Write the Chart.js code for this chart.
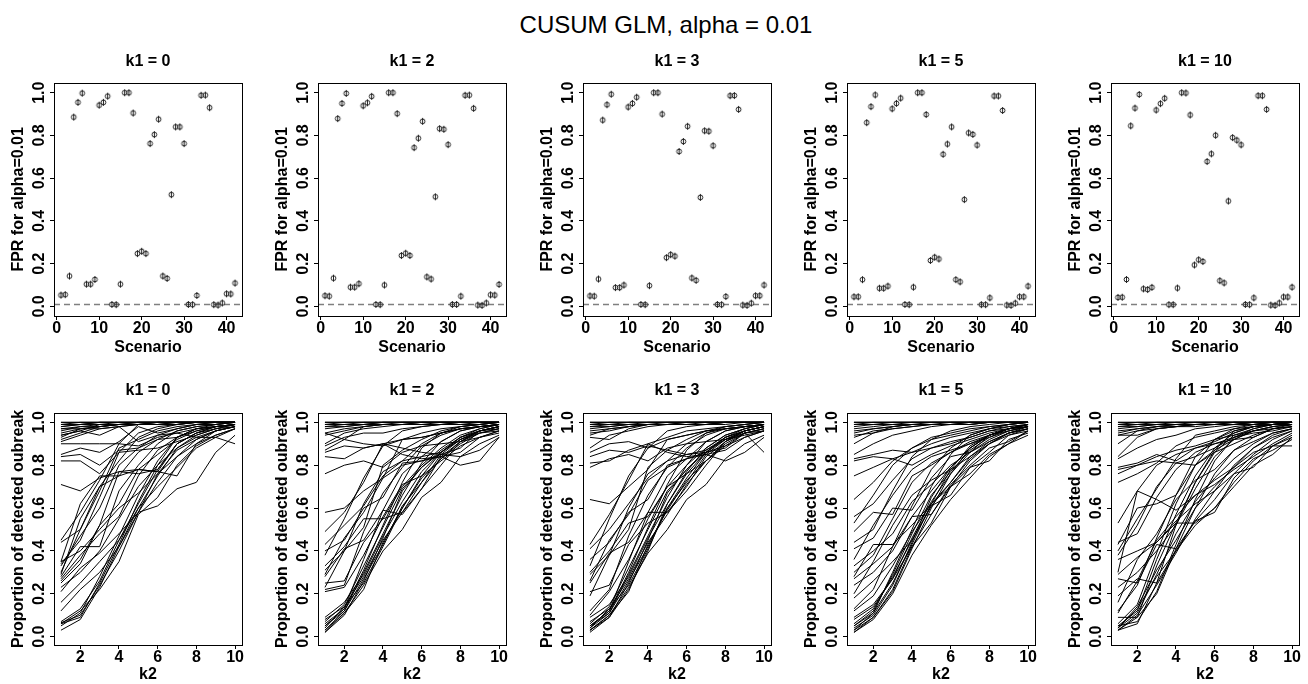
<!DOCTYPE html>
<html><head><meta charset="utf-8">
<script src="https://cdn.jsdelivr.net/npm/chart.js@4.4.1/dist/chart.umd.min.js"></script>
<style>
body{margin:0;width:1308px;height:684px;overflow:hidden;background:#fff;position:relative;font-family:'Liberation Sans',Arial,sans-serif}
canvas{position:absolute}
#main{position:absolute;left:0;width:1332px;top:13px;text-align:center;font-size:24px;line-height:24px;color:#000}
</style></head><body>
<div id="main">CUSUM GLM, alpha = 0.01</div>
<script>
// ---------- data ----------
const ALPHA = 0.01;
const K1_VALUES = [0, 2, 3, 5, 10];
const SCENARIOS = [1,2,3,4,5,6,7,8,9,10,11,12,13,14,15,16,17,18,19,20,21,22,23,24,25,26,27,28,29,30,31,32,33,34,35,36,37,38,39,40,41,42];
const SCENARIO_TICKS = [0, 10, 20, 30, 40];
const K2_VALUES = [1,2,3,4,5,6,7,8,9,10];
const K2_TICKS = [2, 4, 6, 8, 10];
const PROP_TICKS = [0, 0.2, 0.4, 0.6, 0.8, 1.0];

// FPR per scenario, one array per k1
const FPR_K1_0  = [0.053,0.055,0.142,0.886,0.955,0.998,0.104,0.104,0.126,0.942,0.955,0.984,0.009,0.008,0.104,1.000,1.000,0.905,0.247,0.258,0.247,0.762,0.804,0.876,0.142,0.131,0.523,0.840,0.840,0.762,0.009,0.008,0.051,0.988,0.989,0.930,0.008,0.006,0.016,0.059,0.058,0.109];
const FPR_K1_2  = [0.050,0.048,0.132,0.879,0.950,0.997,0.090,0.090,0.106,0.939,0.953,0.983,0.009,0.008,0.100,1.000,1.000,0.902,0.238,0.249,0.238,0.743,0.787,0.866,0.138,0.128,0.513,0.832,0.829,0.757,0.009,0.009,0.048,0.988,0.989,0.927,0.006,0.005,0.016,0.054,0.053,0.103];
const FPR_K1_3  = [0.049,0.048,0.128,0.872,0.944,0.993,0.088,0.088,0.100,0.933,0.950,0.979,0.009,0.008,0.097,1.000,1.000,0.900,0.228,0.242,0.235,0.725,0.772,0.843,0.133,0.122,0.510,0.822,0.820,0.752,0.009,0.008,0.046,0.986,0.987,0.922,0.006,0.005,0.015,0.050,0.050,0.100];
const FPR_K1_5  = [0.045,0.045,0.125,0.860,0.935,0.990,0.085,0.085,0.095,0.925,0.950,0.975,0.009,0.008,0.090,1.000,1.000,0.898,0.215,0.230,0.222,0.712,0.760,0.840,0.125,0.115,0.500,0.812,0.805,0.755,0.008,0.008,0.040,0.985,0.985,0.917,0.006,0.005,0.015,0.045,0.045,0.095];
const FPR_K1_10 = [0.042,0.043,0.126,0.845,0.928,0.992,0.082,0.079,0.089,0.919,0.949,0.974,0.008,0.008,0.086,1.000,0.999,0.896,0.194,0.218,0.210,0.678,0.714,0.801,0.120,0.110,0.493,0.790,0.778,0.756,0.009,0.008,0.040,0.986,0.986,0.922,0.006,0.005,0.016,0.044,0.044,0.090];

// Proportion of detected outbreak (in %) for k2 = 1..10, one line per scenario
const DET_K1_0 = [
[100,100,100,100,100,100,100,100,100,100],[100,100,100,100,100,100,100,100,100,100],
[99,100,100,100,100,100,100,100,100,100],[99,99,100,100,100,100,100,100,100,100],
[98,99,100,100,100,100,100,100,100,100],[98,99,99,100,100,100,100,100,100,100],
[97,98,99,99,100,100,100,100,100,100],[97,97,98,99,99,100,100,100,100,100],
[96,98,98,99,99,100,100,100,100,100],[95,97,98,99,99,99,100,100,100,100],
[94,96,99,99,100,100,100,100,100,100],[93,97,97,98,99,99,99,100,100,100],
[92,95,98,99,99,100,100,100,100,100],[91,94,97,98,99,99,99,100,100,100],
[90,90,90,90,89,93,95,97,98,99],[85,88,86,91,98,95,97,99,99,100],
[84,85,80,87,88,92,93,96,98,99],[82,82,76,86,87,88,91,94,97,99],
[71,68,74,77,76,78,90,95,97,98],[94,96,94,98,91,94,95,93,93,90],
[45,58,73,90,99,99,100,100,100,100],[44,50,70,82,93,97,99,100,100,100],
[35,62,75,75,78,77,90,95,98,99],[34,45,65,86,95,98,99,100,100,100],
[33,47,60,80,88,94,97,99,100,100],[30,50,68,88,92,96,98,99,100,100],
[29,55,70,75,86,92,96,98,99,100],[28,42,42,68,80,90,96,98,99,100],
[27,38,48,56,75,87,93,97,98,99],[26,36,52,77,78,77,75,90,96,98],
[25,34,52,62,78,85,92,96,98,99],[23,30,40,55,70,80,88,93,96,98],
[21,32,39,48,58,61,69,72,86,94],[16,25,35,45,60,70,79,88,93,97],
[12,22,30,42,58,76,87,92,96,98],[7,13,26,45,62,78,90,95,98,99],
[6.5,10,24,40,58,72,84,92,96,98],[6,12,22,35,57,65,80,89,94,97],
[6,9,25,43,63,80,93,97,99,100],[3,8,23,42,60,75,88,94,97,99],
[5,11,28,47,66,82,93,97,98,99],[35,40,50,60,67,76,84,90,94,97]
];
const DET_K1_2 = [
[100,100,100,100,100,100,100,100,100,100],[100,100,100,100,100,100,100,100,100,100],
[100,100,100,100,100,100,100,100,100,100],[99,100,100,100,100,100,100,100,100,100],
[99,99,100,100,100,100,100,100,100,100],[99,99,99,100,100,100,100,100,100,100],
[98,99,99,100,100,100,100,100,100,100],[98,98,99,99,100,100,100,100,100,100],
[97,98,99,99,99,100,100,100,100,100],[95,97,98,99,99,99,100,100,100,100],
[94,96,98,99,99,100,100,100,100,100],[95,92,98,99,99,99,99,100,100,100],
[90,95,97,98,99,99,99,99,100,100],[89,93,95,95,97,98,99,99,99,100],
[87,92,90,89,92,93,95,97,98,99],[86,89,88,90,88,86,85,84,87,93],
[84,83,88,90,85,83,84,80,82,93],[76,80,82,79,86,89,90,91,93,95],
[58,60,68,74,92,93,95,97,98,99],[49,58,72,90,92,95,97,98,99,100],
[43,52,61,75,82,90,95,97,98,99],[40,45,60,65,81,82,85,88,96,97],
[38,55,74,89,96,98,99,100,100,100],[33,42,55,55,70,80,88,94,97,99],
[31,40,51,80,87,92,96,98,99,100],[29,46,58,74,80,82,84,86,93,96],
[28,41,45,59,57,69,84,91,96,98],[25,26,44,55,58,69,80,91,96,98],
[23,40,62,77,82,84,86,92,95,97],[22,24,49,67,79,89,94,97,98,99],
[21,23,38,56,71,75,82,89,93,96],[9,16,29,47,63,77,86,93,96,98],
[8,14,25,42,60,75,86,92,96,98],[5,12,30,48,66,81,91,96,98,99],
[4,14,28,45,58,72,83,91,95,97],[3,11,24,40,50,65,72,84,90,94],
[2,10,26,46,68,79,86,93,96,98],[3,12,27,43,61,72,85,92,96,98],
[6,13,31,52,72,88,95,98,99,100],[7,15,33,51,69,79,87,93,97,99],
[2,11,22,44,60,74,83,90,95,96],[5,13,36,59,76,84,91,96,98,99]
];
const DET_K1_3 = [
[100,100,100,100,100,100,100,100,100,100],[100,100,100,100,100,100,100,100,100,100],
[100,100,100,100,100,100,100,100,100,100],[99,100,100,100,100,100,100,100,100,100],
[99,99,100,100,100,100,100,100,100,100],[98,99,99,100,100,100,100,100,100,100],
[98,98,99,99,100,100,100,100,100,100],[97,98,99,99,99,100,100,100,100,100],
[96,97,98,99,99,99,100,100,100,100],[95,96,98,99,99,100,100,100,100,100],
[94,97,98,99,99,99,99,100,100,100],[93,92,97,99,99,99,99,100,100,100],
[88,94,96,98,99,99,99,99,100,100],[86,90,91,88,92,94,96,97,98,99],
[84,87,86,89,87,85,86,88,95,86],[81,82,87,90,86,84,85,82,86,93],
[79,83,85,82,88,90,91,92,94,96],[64,62,70,78,92,94,96,97,98,99],
[43,57,73,90,93,96,97,98,99,100],[41,50,62,74,82,90,95,97,98,99],
[36,44,58,64,80,83,86,89,95,97],[33,55,75,88,96,98,99,100,100,100],
[30,40,53,56,70,80,88,94,97,99],[29,38,50,79,87,92,96,98,99,100],
[26,45,57,73,79,83,85,87,93,96],[25,39,44,58,58,70,84,91,96,98],
[21,24,43,53,58,68,80,91,96,98],[19,38,60,76,82,85,87,92,95,97],
[12,22,47,66,79,88,94,97,98,99],[10,21,36,55,70,76,82,89,93,96],
[9,15,28,46,62,76,86,93,96,98],[7,13,24,41,60,74,86,92,96,98],
[5,11,29,47,65,80,91,96,98,99],[4,13,27,44,57,71,82,91,95,97],
[3,10,23,39,50,64,71,83,90,94],[3,9,25,45,67,78,86,93,96,98],
[4,11,26,42,60,72,85,92,96,98],[5,12,30,51,71,87,95,98,99,100],
[6,14,32,50,68,78,87,93,97,99],[3,10,21,43,59,73,82,90,95,96],
[5,12,35,58,75,83,91,96,98,99],[2,9,22,40,62,77,88,94,97,99]
];
const DET_K1_5 = [
[100,100,100,100,100,100,100,100,100,100],[100,100,100,100,100,100,100,100,100,100],
[100,100,100,100,100,100,100,100,100,100],[99,100,100,100,100,100,100,100,100,100],
[99,99,100,100,100,100,100,100,100,100],[98,99,99,100,100,100,100,100,100,100],
[97,98,99,99,100,100,100,100,100,100],[96,97,98,99,99,100,100,100,100,100],
[95,97,98,99,99,99,100,100,100,100],[94,95,98,99,99,99,99,100,100,100],
[93,96,97,98,99,99,100,100,100,100],[90,95,97,98,99,99,99,100,100,100],
[85,90,94,96,98,99,99,100,100,100],[83,85,87,86,90,93,95,97,98,99],
[82,84,83,80,85,89,92,95,97,98],[75,79,83,86,88,90,93,96,97,99],
[64,72,82,88,93,95,97,98,99,100],[56,62,73,83,88,91,93,96,98,99],
[53,66,80,88,92,94,96,98,99,100],[49,58,57,75,80,86,91,94,97,98],
[44,50,68,84,92,96,98,99,100,100],[41,46,60,59,74,84,86,94,96,98],
[36,52,66,78,84,87,90,94,97,98],[33,40,48,63,71,80,86,91,95,97],
[30,38,55,72,81,86,90,93,96,98],[27,34,42,56,57,71,80,88,91,96],
[24,30,40,56,68,79,88,94,97,99],[20,35,52,66,73,78,84,90,94,97],
[18,26,35,45,61,66,79,82,92,95],[13,22,42,61,78,88,94,97,99,100],
[8,14,27,46,63,76,86,92,96,98],[5,11,25,43,62,78,89,94,97,99],
[3,9,22,42,57,70,82,90,95,97],[2,8,20,38,52,64,74,84,90,94],
[4,10,24,44,65,79,88,94,97,99],[6,13,28,45,61,72,84,91,95,98],
[3,11,30,50,70,85,94,97,99,100],[5,12,29,48,66,77,87,93,97,99],
[9,15,27,42,53,70,79,86,94,96],[12,19,33,49,62,72,83,90,95,97],
[2,9,21,41,60,76,88,94,97,99],[28,43,43,52,62,70,76,85,90,96]
];
const DET_K1_10 = [
[100,100,100,100,100,100,100,100,100,100],[100,100,100,100,100,100,100,100,100,100],
[99,100,100,100,100,100,100,100,100,100],[99,99,100,100,100,100,100,100,100,100],
[98,99,99,100,100,100,100,100,100,100],[98,98,99,99,100,100,100,100,100,100],
[97,98,99,99,99,100,100,100,100,100],[96,97,98,99,99,99,100,100,100,100],
[95,97,98,98,99,99,99,100,100,100],[94,94,97,98,99,99,99,99,100,100],
[94,96,97,98,98,99,99,100,100,100],[90,96,98,99,99,99,100,100,100,100],
[84,93,97,98,99,99,99,100,100,100],[83,88,92,94,97,98,99,99,100,100],
[79,81,85,82,88,91,95,98,99,99],[78,80,82,81,80,86,90,94,97,98],
[76,80,84,87,89,92,94,96,97,99],[72,76,81,89,93,95,97,98,99,99],
[53,68,80,85,88,90,93,96,98,99],[44,48,65,78,86,90,92,93,97,98],
[43,60,62,66,80,87,92,96,98,99],[40,55,69,83,94,96,98,99,99,100],
[38,52,70,81,84,88,93,95,96,98],[36,40,44,54,62,68,76,79,89,93],
[30,68,64,59,66,73,79,86,89,89],[29,37,44,53,53,60,70,80,85,93],
[27,25,43,41,54,58,74,83,87,92],[23,30,40,52,69,84,92,96,98,99],
[19,27,25,40,52,60,72,82,89,94],[16,36,48,64,73,78,87,91,95,97],
[12,24,46,66,84,92,96,98,99,100],[11,26,45,56,66,71,78,84,90,95],
[9,9,20,41,60,76,87,93,97,98],[5,7,21,43,64,82,93,97,99,100],
[4,11,29,48,63,74,83,90,95,97],[3,6,25,52,72,86,94,97,99,100],
[3,9,33,53,72,87,96,98,99,100],[4,14,31,45,60,70,79,88,93,96],
[5,12,36,57,75,88,95,98,99,100],[3,10,24,39,55,68,80,88,94,97],
[4,13,28,40,54,64,76,85,92,96],[6,15,39,62,80,92,97,99,100,100]
];

const FPR_ALL = [FPR_K1_0, FPR_K1_2, FPR_K1_3, FPR_K1_5, FPR_K1_10];
const DET_ALL = [DET_K1_0, DET_K1_2, DET_K1_3, DET_K1_5, DET_K1_10];

// ---------- layout ----------
const FONT = "'Liberation Sans', Arial, Helvetica, sans-serif";
Chart.defaults.font.family = FONT;
Chart.defaults.color = '#000';
const BOX_LEFT = [54, 318.3, 582.5, 846.8, 1111];
const BOX_W = 188;
const LEFT_SPACE = 54;

function makeMarker(){
  const c = document.createElement('canvas');
  c.width = 9; c.height = 11;
  const g = c.getContext('2d');
  g.strokeStyle = '#222'; g.lineWidth = 1;
  g.beginPath(); g.arc(4.5, 5.5, 2.4, 0, Math.PI*2); g.stroke();
  g.beginPath(); g.moveTo(4.5, 2); g.lineTo(4.5, 9); g.stroke();
  return c;
}
const MARKER = makeMarker();

const framePlugin = {
  id: 'frame',
  afterDraw(chart){
    const a = chart.chartArea, ctx = chart.ctx;
    ctx.save(); ctx.strokeStyle = '#000'; ctx.lineWidth = 1;
    ctx.strokeRect(Math.round(a.left)+0.5, Math.round(a.top)+0.5, Math.round(a.right-a.left), Math.round(a.bottom-a.top));
    const pt = chart.options.plugins.panelTitle;
    if (pt && pt.text){
      ctx.fillStyle = '#000';
      ctx.font = 'bold 16px ' + FONT;
      ctx.textAlign = 'center'; ctx.textBaseline = 'middle';
      ctx.fillText(pt.text, (a.left + a.right) / 2, pt.y);
    }
    ctx.restore();
  }
};
const alphaPlugin = {
  id: 'alphaLine',
  beforeDatasetsDraw(chart){
    const a = chart.chartArea, ctx = chart.ctx;
    const y = Math.round(chart.scales.y.getPixelForValue(ALPHA)) + 0.5;
    ctx.save(); ctx.strokeStyle = '#7f7f7f'; ctx.lineWidth = 1.3; ctx.setLineDash([6,4]);
    ctx.beginPath(); ctx.moveTo(a.left, y); ctx.lineTo(a.right, y); ctx.stroke();
    ctx.restore();
  }
};

function boldFont(size, lh){ return {family: FONT, size: size, weight: 'bold', lineHeight: lh || 1.2}; }

function axisX(min, max, ticks, title, h, titlePadBottom){
  return {
    type: 'linear', min: min, max: max,
    afterBuildTicks: s => { s.ticks = ticks.map(v => ({value: v})); },
    afterFit: s => { s.height = h; },
    grid: {display: true, drawOnChartArea: false, drawTicks: true, tickLength: 4, color: '#000', lineWidth: 1},
    border: {display: false},
    ticks: {font: boldFont(16, 1), color: '#000', padding: 0.5, maxRotation: 0, minRotation: 0, autoSkip: false,
            callback: v => String(v)},
    title: {display: true, text: title, font: boldFont(16), color: '#000', padding: {top: 0, bottom: titlePadBottom}}
  };
}
function axisY(min, max, title){
  return {
    type: 'linear', min: min, max: max,
    afterBuildTicks: s => { s.ticks = PROP_TICKS.map(v => ({value: v})); },
    afterFit: s => { s.width = LEFT_SPACE; },
    grid: {display: true, drawOnChartArea: false, drawTicks: true, tickLength: 4, color: '#000', lineWidth: 1},
    border: {display: false},
    ticks: {font: boldFont(16, 1), color: '#000', padding: -1, minRotation: 90, maxRotation: 90, crossAlign: 'center', autoSkip: false,
            callback: v => Number(v).toFixed(1)},
    title: {display: true, text: title, font: boldFont(16), color: '#000', padding: {top: 9, bottom: 0}}
  };
}

function addCanvas(left, top, w, h){
  const c = document.createElement('canvas');
  c.width = w; c.height = h;
  c.style.left = left + 'px'; c.style.top = top + 'px';
  c.style.width = w + 'px'; c.style.height = h + 'px';
  document.body.appendChild(c);
  return c;
}

const CW = LEFT_SPACE + BOX_W + 10;

K1_VALUES.forEach((k1, p) => {
  // top row: FPR per scenario
  const c1 = addCanvas(BOX_LEFT[p] - LEFT_SPACE, 40, CW, 320);
  new Chart(c1, {
    type: 'scatter',
    data: {datasets: [{
      data: SCENARIOS.map((s, i) => ({x: s, y: FPR_ALL[p][i]})),
      pointStyle: MARKER, pointRadius: 4, showLine: false
    }]},
    options: {
      responsive: false, animation: false, devicePixelRatio: 1,
      layout: {padding: {left: 0, right: 10, top: 42.7, bottom: 0}},
      plugins: {
        legend: {display: false}, tooltip: {enabled: false}, title: {display: false},
        panelTitle: {text: 'k1 = ' + k1, y: 21.7}
      },
      scales: {
        x: axisX(-0.64, 43.64, SCENARIO_TICKS, 'Scenario', 44, 2.4),
        y: axisY(-0.045, 1.047, 'FPR for alpha=0.01')
      }
    },
    plugins: [framePlugin, alphaPlugin]
  });

  // bottom row: detection proportion vs k2
  const c2 = addCanvas(BOX_LEFT[p] - LEFT_SPACE, 360, CW, 324);
  new Chart(c2, {
    type: 'scatter',
    data: {datasets: DET_ALL[p].map(line => ({
      data: K2_VALUES.map((k, i) => ({x: k, y: line[i] / 100})),
      showLine: true, borderColor: '#000', borderWidth: 1, pointRadius: 0, tension: 0, fill: false
    }))},
    options: {
      responsive: false, animation: false, devicePixelRatio: 1,
      layout: {padding: {left: 0, right: 10, top: 52.7, bottom: 0}},
      plugins: {
        legend: {display: false}, tooltip: {enabled: false}, title: {display: false},
        panelTitle: {text: 'k1 = ' + k1, y: 30.7}
      },
      scales: {
        x: axisX(0.64, 10.36, K2_TICKS, 'k2', 39, 0),
        y: axisY(-0.039, 1.045, 'Proportion of detected oubreak')
      }
    },
    plugins: [framePlugin]
  });
});
</script>
</body></html>
